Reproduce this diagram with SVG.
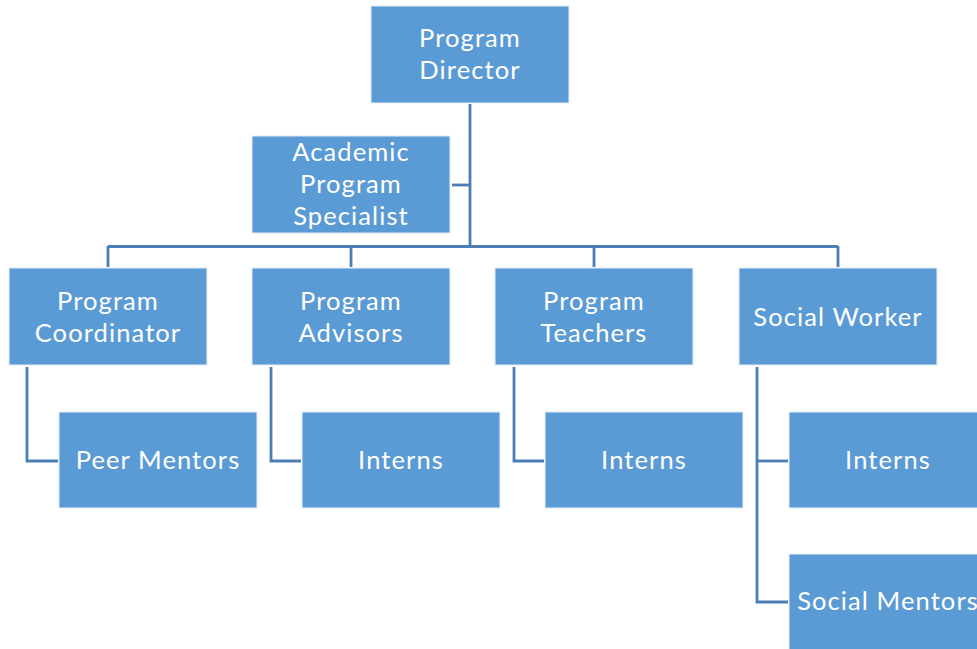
<svg xmlns="http://www.w3.org/2000/svg" width="977" height="649" viewBox="0 0 977 649">
<style>
.box{fill:#5B9BD5;stroke:#E4EEF8;stroke-width:1}
.t{font-family:Lato,"Liberation Sans",sans-serif;font-size:25.5px;letter-spacing:1.1px;fill:#FFFFFF;text-anchor:middle}
.c{fill:none;stroke:#4A7EB4;stroke-width:2.8}
</style>
<rect width="977" height="649" fill="#FFFFFF"/>
<g id="connectors" class="c">
<path d="M470 104V247"/>
<path d="M452 185H470"/>
<path d="M108 246.5H838"/>
<path d="M108 246V267M351 246V267M594 246V267M838 246V267"/>
<path d="M27 367V461H58"/>
<path d="M271 367V461H301"/>
<path d="M514 367V461H544"/>
<path d="M757 367V602H788"/>
<path d="M757 461H788"/>
</g>
<g id="n-director"><rect class="box" x="371" y="6" width="198" height="97"/><text class="t" x="470" y="47">Program</text><text class="t" x="470" y="79">Director</text></g>
<g id="n-academic"><rect class="box" x="252" y="136" width="198" height="97"/><text class="t" x="351" y="161">Academic</text><text class="t" x="351" y="193">Program</text><text class="t" x="351" y="225">Specialist</text></g>
<g id="n-coordinator"><rect class="box" x="9" y="268" width="198" height="97"/><text class="t" x="108" y="310">Program</text><text class="t" x="108" y="342">Coordinator</text></g>
<g id="n-advisors"><rect class="box" x="252" y="268" width="198" height="97"/><text class="t" x="351" y="310">Program</text><text class="t" x="351" y="342">Advisors</text></g>
<g id="n-teachers"><rect class="box" x="495" y="268" width="198" height="97"/><text class="t" x="594" y="310">Program</text><text class="t" x="594" y="342">Teachers</text></g>
<g id="n-social"><rect class="box" x="739" y="268" width="198" height="97"/><text class="t" x="838" y="326">Social Worker</text></g>
<g id="n-peer"><rect class="box" x="59" y="412" width="198" height="96"/><text class="t" x="158" y="469">Peer Mentors</text></g>
<g id="n-interns1"><rect class="box" x="302" y="412" width="198" height="96"/><text class="t" x="401" y="469">Interns</text></g>
<g id="n-interns2"><rect class="box" x="545" y="412" width="198" height="96"/><text class="t" x="644" y="469">Interns</text></g>
<g id="n-interns3"><rect class="box" x="789" y="412" width="198" height="96"/><text class="t" x="888" y="469">Interns</text></g>
<g id="n-socialmentors"><rect class="box" x="789" y="554" width="198" height="97"/><text class="t" x="888" y="610">Social Mentors</text></g>
</svg>
